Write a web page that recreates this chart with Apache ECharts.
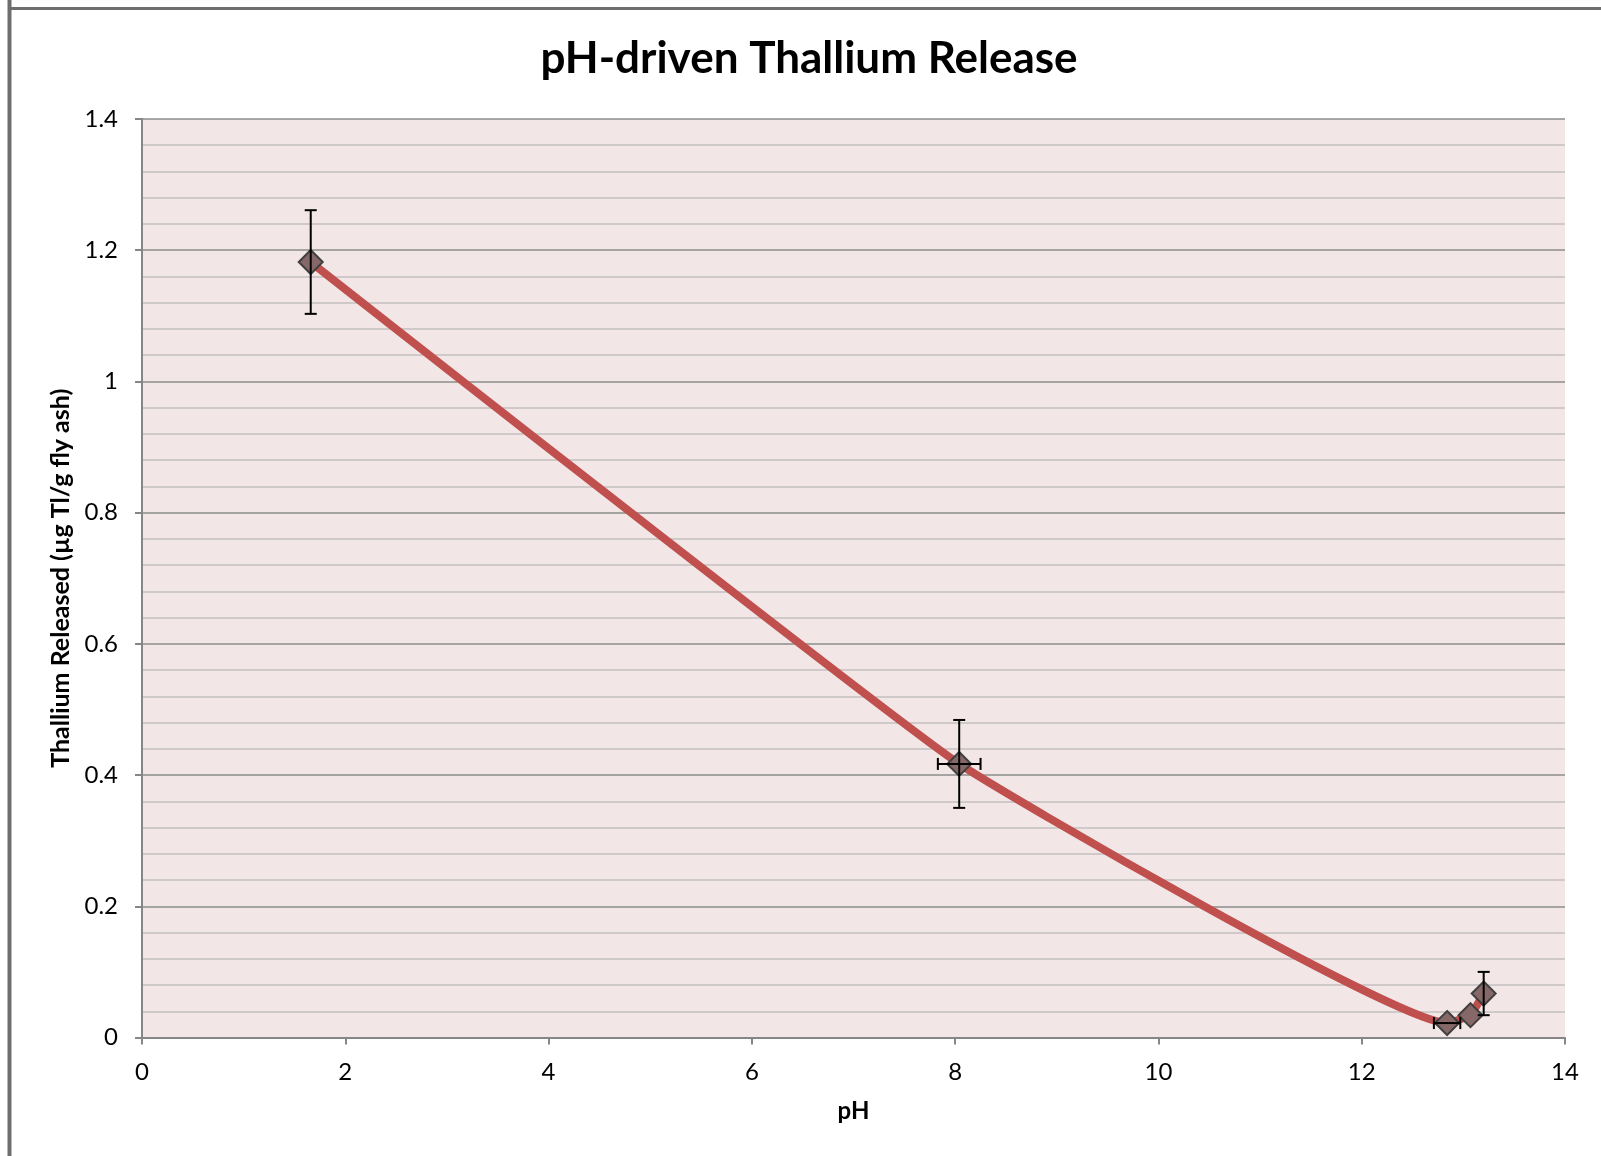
<!DOCTYPE html>
<html>
<head>
<meta charset="utf-8">
<script src="https://cdn.jsdelivr.net/npm/echarts@6/dist/echarts.min.js"></script>
<style>
html,body{margin:0;padding:0;background:#fff;}
#chart{width:1601px;height:1156px;}
</style>
</head>
<body>
<div id="chart"></div>
<script>
// Data
const pH       = [1.66, 8.04, 12.84, 13.07, 13.20];
const thallium = [1.182, 0.417, 0.022, 0.034, 0.067];
const errY     = [0.079, 0.067, 0, 0, 0.033];
const errX     = [0, 0.21, 0.13, 0, 0];

const titleText = 'pH-driven Thallium Release';
const xName = 'pH';
const yName = 'Thallium Released (µg Tl/g fly ash)';

const FONT = 'Lato';
const points = pH.map((x, i) => [x, thallium[i]]);
const errData = pH.map((x, i) => [x, thallium[i], errX[i], errY[i]]);

const chart = echarts.init(document.getElementById('chart'), null, {renderer: 'canvas'});

chart.setOption({
  backgroundColor: '#ffffff',
  animation: false,
  graphic: [
    {type: 'line', shape: {x1: 9.5, y1: 0, x2: 9.5, y2: 1156}, style: {stroke: '#6e6e6e', lineWidth: 4}, z: 10},
    {type: 'line', shape: {x1: 8, y1: 8.5, x2: 1601, y2: 8.5}, style: {stroke: '#6e6e6e', lineWidth: 3}, z: 10},
    {type: 'text', x: 809, y: 59, style: {text: titleText, font: 'bold 44px ' + FONT, fill: '#000', textAlign: 'center', textVerticalAlign: 'middle'}}
  ],
  grid: {
    left: 142, right: 36, top: 119, bottom: 118.5,
    show: true, backgroundColor: '#f2e6e6', borderWidth: 0
  },
  xAxis: {
    type: 'value', min: 0, max: 14, interval: 2,
    name: xName, nameLocation: 'middle', nameGap: 62,
    nameTextStyle: {fontFamily: FONT, fontWeight: 'bold', fontSize: 24, color: '#000'},
    axisLine: {show: true, lineStyle: {color: '#868686', width: 2}},
    axisTick: {show: true, length: 7, lineStyle: {color: '#868686', width: 2}},
    axisLabel: {fontFamily: FONT, fontSize: 24, color: '#000', margin: 23},
    splitLine: {show: false}
  },
  yAxis: {
    type: 'value', min: 0, max: 1.4, interval: 0.2,
    name: yName, nameLocation: 'middle', nameGap: 68, nameRotate: 90,
    nameTextStyle: {fontFamily: FONT, fontWeight: 'bold', fontSize: 25, color: '#000'},
    axisLine: {show: true, lineStyle: {color: '#868686', width: 2}},
    axisTick: {show: true, length: 7, lineStyle: {color: '#868686', width: 2}},
    axisLabel: {fontFamily: FONT, fontSize: 24, color: '#000', margin: 24},
    splitLine: {show: true, lineStyle: {color: '#8c8c8c', width: 1.5}},
    minorTick: {show: false, splitNumber: 5},
    minorSplitLine: {show: true, lineStyle: {color: '#c4c0c0', width: 1.5}}
  },
  series: [
    {
      type: 'line',
      data: points,
      smooth: 0.1,
      showSymbol: true,
      symbol: 'diamond',
      symbolSize: 24,
      lineStyle: {color: '#c0504d', width: 8},
      itemStyle: {color: '#876868', borderColor: '#404040', borderWidth: 2},
      z: 3
    },
    {
      type: 'custom',
      data: errData,
      z: 4,
      renderItem: function (params, api) {
        const x = api.value(0), y = api.value(1), ex = api.value(2), ey = api.value(3);
        const children = [];
        const style = {stroke: '#000', lineWidth: 2};
        const cap = 6;
        if (ey > 0) {
          const top = api.coord([x, y + ey]);
          const bot = api.coord([x, y - ey]);
          children.push({type: 'line', shape: {x1: top[0], y1: top[1], x2: bot[0], y2: bot[1]}, style: style});
          children.push({type: 'line', shape: {x1: top[0] - cap, y1: top[1], x2: top[0] + cap, y2: top[1]}, style: style});
          children.push({type: 'line', shape: {x1: bot[0] - cap, y1: bot[1], x2: bot[0] + cap, y2: bot[1]}, style: style});
        }
        if (ex > 0) {
          const l = api.coord([x - ex, y]);
          const r = api.coord([x + ex, y]);
          children.push({type: 'line', shape: {x1: l[0], y1: l[1], x2: r[0], y2: r[1]}, style: style});
          children.push({type: 'line', shape: {x1: l[0], y1: l[1] - cap, x2: l[0], y2: l[1] + cap}, style: style});
          children.push({type: 'line', shape: {x1: r[0], y1: r[1] - cap, x2: r[0], y2: r[1] + cap}, style: style});
        }
        return {type: 'group', children: children};
      }
    }
  ]
});
</script>
</body>
</html>
